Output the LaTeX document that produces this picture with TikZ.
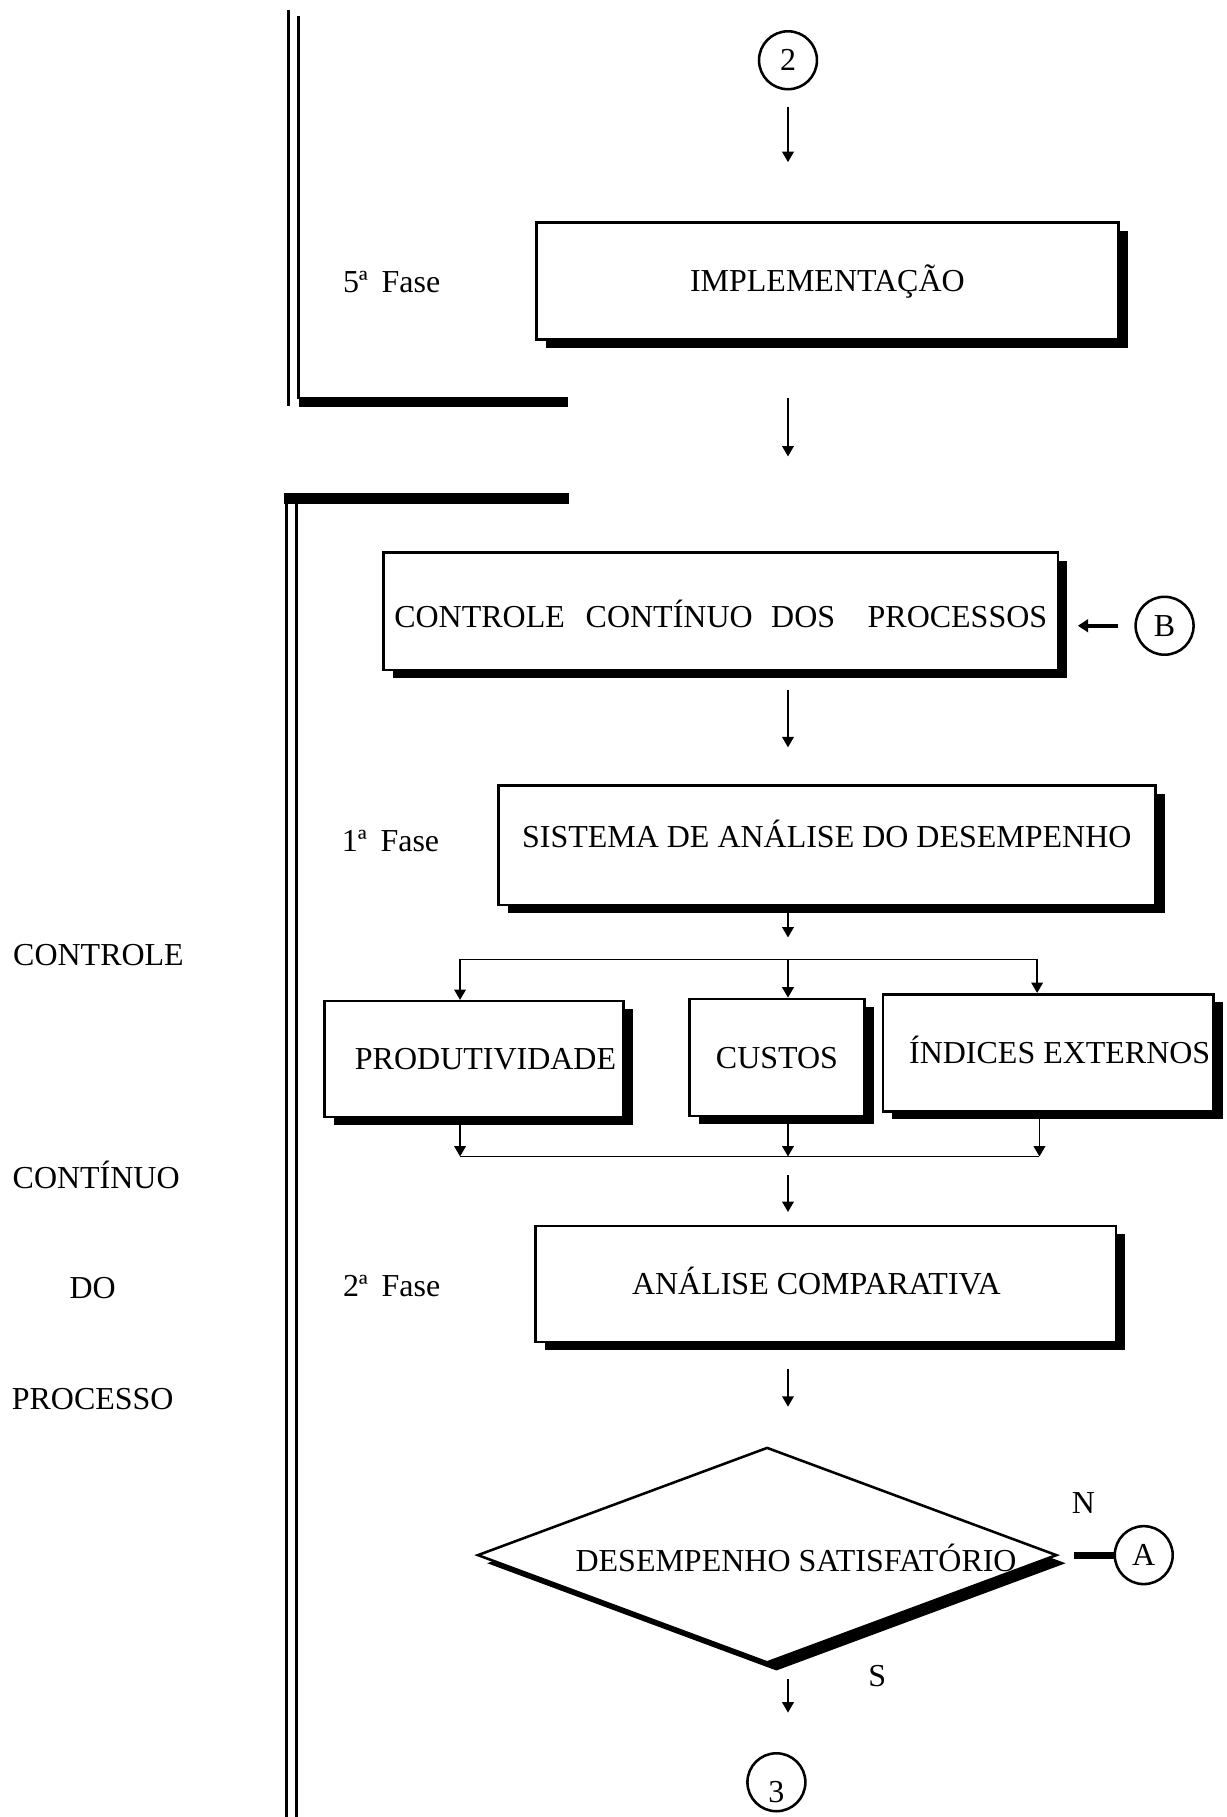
\documentclass[tikz,border=0pt]{standalone}
\usepackage{fontspec}
\setmainfont{Liberation Serif}
\usetikzlibrary{shapes.geometric,arrows.meta,shadows}
\begin{document}
\begin{tikzpicture}[x=0.5pt,y=-0.5pt,
  lbl/.style={font=\fontsize{13.8}{16}\selectfont, inner sep=0pt,
              text height=9.2pt, text depth=0pt},
  boxshadow/.style={general shadow={fill=black, shadow xshift=4pt, shadow yshift=-3.5pt}},
  procbox/.style={lbl, draw, line width=1.1pt, fill=white, boxshadow},
  conn/.style={lbl, draw, circle, line width=1.1pt, minimum size=25pt},
  arr/.style={line width=0.8pt, -{Triangle[length=4.5pt,width=5pt]}},
  wire/.style={line width=0.8pt},
  rail/.style={line width=1.3pt},
  bar/.style={line width=4.5pt},
]
\useasboundingbox (0,0) rectangle (1058,1568);
\fill[white] (0,0) rectangle (1058,1568);

% main flow column
\coordinate (axis) at (680,0);

% phase rails
\draw[rail] (249,9) -- (249,350);
\draw[rail] (258,14) -- (258,344);
\draw[bar] (258,347) -- (490,347);
\draw[rail] (247,428) -- (247,1568);
\draw[rail] (256,432) -- (256,1568);
\draw[bar] (245,430) -- (491,430);

% side labels
\node[lbl] (ctl1) at (85,824) {CONTROLE};
\node[lbl] (ctl2) at (83,1016) {CONTÍNUO};
\node[lbl] (ctl3) at (80,1111) {DO};
\node[lbl] (ctl4) at (80,1207) {PROCESSO};

\node[lbl] (f5) at (338,243) {5ª\hspace{6pt}Fase};
\node[lbl] (f1) at (337,726) {1ª\hspace{6pt}Fase};
\node[lbl] (f2) at (338,1110) {2ª\hspace{6pt}Fase};

% connectors (circles)
\node[conn] (c2) at (680,52) {2};
\node[conn] (cB) at (1005,540) {B};
\node[conn] (cA) at (987,1342) {A};
\node[conn] (c3) at (670,1538) {\raisebox{-4pt}{3}};

% process boxes
\node[procbox, minimum width=251pt, minimum height=50.5pt] (impl) at (714,242.5) {IMPLEMENTAÇÃO};
\node[procbox, minimum width=291pt, minimum height=50.5pt, text height=13.7pt] (ccp) at (622,527.5)
  {CONTROLE\hspace{9pt}CONTÍNUO\hspace{8pt}DOS\hspace{14pt}PROCESSOS};
\node[procbox, minimum width=283.5pt, minimum height=51.5pt, text depth=7pt] (sad) at (713.5,729.5)
  {SISTEMA DE ANÁLISE DO DESEMPENHO};
\node[procbox, minimum width=129pt, minimum height=50pt] (prod) at (409,914)
  {\hspace*{10pt}PRODUTIVIDADE};
\node[procbox, minimum width=75.5pt, minimum height=50.5pt] (cus) at (670.5,912.5) {CUSTOS};
\node[procbox, minimum width=142.5pt, minimum height=50.5pt] (ind) at (904.5,908.5)
  {\hspace*{10pt}ÍNDICES EXTERNOS};
\node[procbox, minimum width=250.5pt, minimum height=50pt] (comp) at (712.5,1108)
  {ANÁLISE COMPARATIVA\hspace*{8pt}};

% decision
\node[draw, diamond, line width=1.1pt, fill=white, inner sep=0pt,
      minimum width=250pt, minimum height=93pt, boxshadow] (dec) at (662,1342) {};
\node[lbl] (dect) at (687,1347) {DESEMPENHO SATISFATÓRIO};
\node[lbl] (lN) at (935,1297) {N};
\node[lbl] (lS) at (757,1446) {S};

% flow arrows
\draw[arr, shorten <=7pt, shorten >=25.5pt] (c2) -- (c2 |- impl.north);
\draw[arr, shorten <=24.5pt, shorten >=41pt] (impl.south -| axis) -- (ccp.north -| axis);
\draw[line width=1.7pt, -{Triangle[length=4.5pt,width=5.5pt]}, shorten <=7pt, shorten >=8pt]
  (cB.west) -- (ccp.east |- cB.west);
\draw[arr, shorten <=8pt, shorten >=16pt] (ccp.south -| axis) -- (sad.north -| axis);

% split to the three indicators
\coordinate (split) at (680,809);
\coordinate (dl) at (397,828);
\coordinate (dr) at (895,828);
\draw[arr] (sad.south -| axis) -- (split);
\draw[wire] (dl) -- (dr);
\draw[arr] (dl) -- (prod.north -| dl);
\draw[arr] (dl -| axis) -- (cus.north -| axis);
\draw[arr] (dr) -- (ind.north -| dr);

% merge
\coordinate (cl) at (397,998);
\coordinate (cr) at (897,998);
\draw[arr] (prod.south -| cl) -- (cl);
\draw[arr] (cus.south -| axis) -- (cl -| axis);
\draw[arr] (ind.south -| cr) -- (cr);
\draw[wire] (cl) -- (cr);

\draw[arr, shorten <=8pt, shorten >=5.5pt] (cl -| axis) -- (comp.north -| axis);
\draw[arr, shorten <=11pt, shorten >=17pt] (comp.south -| axis) -- (axis |- dec.north);
\draw[arr, shorten <=6.5pt, shorten >=17pt] (axis |- dec.south) -- (axis |- c3.north);
\draw[line width=3pt, shorten <=7pt] (dec.east) -- (cA.west);
\end{tikzpicture}
\end{document}
